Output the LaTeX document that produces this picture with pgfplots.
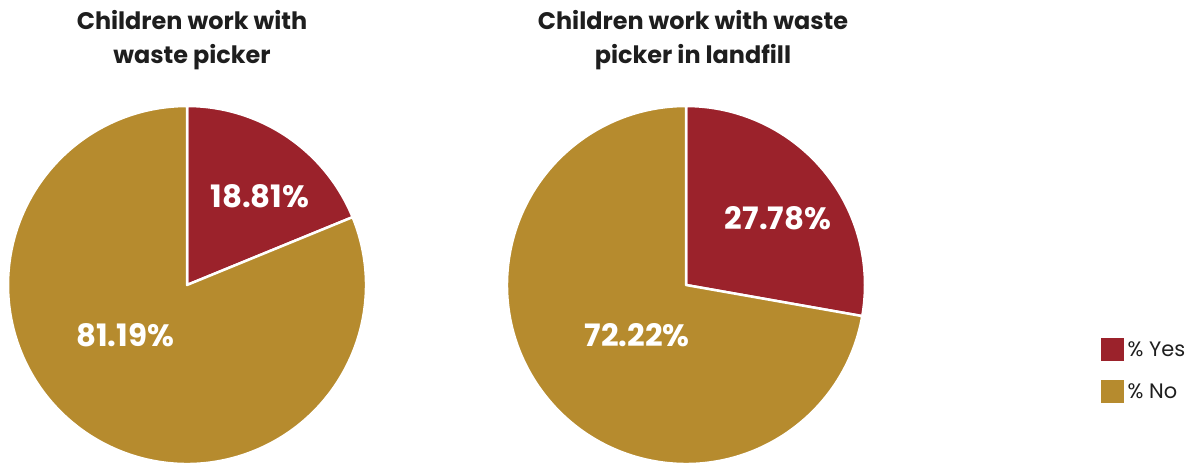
\documentclass[border=0pt]{standalone}
\usepackage{fontspec}
\setmainfont{Poppins}
\usepackage{pgfplots}
\usepackage{pgfplotstable}
\pgfplotsset{compat=1.18}
\definecolor{yescol}{HTML}{9B222B}
\definecolor{nocol}{HTML}{B68B2E}
\definecolor{txt}{HTML}{1E1E1E}
\pgfplotstableread{
chart yes no
1 18.81 81.19
2 27.78 72.22
}\piedata
\begin{document}
\begin{tikzpicture}
\pgfplotstablegetelem{0}{yes}\of\piedata \let\yesA\pgfplotsretval
\pgfplotstablegetelem{0}{no}\of\piedata \let\noA\pgfplotsretval
\pgfplotstablegetelem{1}{yes}\of\piedata \let\yesB\pgfplotsretval
\pgfplotstablegetelem{1}{no}\of\piedata \let\noB\pgfplotsretval
\pgfmathsetmacro\angA{90-3.6*\yesA}
\pgfmathsetmacro\angB{90-3.6*\yesB}
\begin{axis}[x=1bp,y=1bp,xmin=0,xmax=1194,ymin=0,ymax=466,
  hide axis, clip=false, scale only axis,
  legend image code/.code={\fill[#1] (0bp,-11.5bp) rectangle (23bp,11.5bp);},
  legend style={at={(axis cs:1101,128)},anchor=north west,draw=none,fill=none,
    font=\fontsize{21}{24}\selectfont\color{txt},row sep=19bp,inner sep=0pt,
    nodes={inner ysep=0pt,inner xsep=3.5bp}},
  legend cell align=left]
\addlegendimage{fill=yescol,draw=none}
\addlegendentry{\% Yes}
\addlegendimage{fill=nocol,draw=none}
\addlegendentry{\% No}
% pie 1
\filldraw[fill=yescol,draw=white,line width=2.5bp,line join=round] (axis cs:187,181) -- ++(90:179bp) arc[start angle=90,end angle=\angA,radius=179bp] -- cycle;
\filldraw[fill=nocol,draw=white,line width=2.5bp,line join=round] (axis cs:187,181) -- ++(\angA:179bp) arc[start angle=\angA,end angle=-270,radius=179bp] -- cycle;
% pie 2
\filldraw[fill=yescol,draw=white,line width=2.5bp,line join=round] (axis cs:686,181) -- ++(90:179bp) arc[start angle=90,end angle=\angB,radius=179bp] -- cycle;
\filldraw[fill=nocol,draw=white,line width=2.5bp,line join=round] (axis cs:686,181) -- ++(\angB:179bp) arc[start angle=\angB,end angle=-270,radius=179bp] -- cycle;
% labels
\node[white,font=\fontsize{31}{34}\selectfont\bfseries] at (axis cs:260,270) {\yesA\%};
\node[white,font=\fontsize{31}{34}\selectfont\bfseries] at (axis cs:125,131) {\noA\%};
\node[white,font=\fontsize{31}{34}\selectfont\bfseries] at (axis cs:778,248) {\yesB\%};
\node[white,font=\fontsize{31}{34}\selectfont\bfseries] at (axis cs:637,131) {\noB\%};
% titles
\node[txt,font=\fontsize{24}{34}\selectfont\bfseries,align=center] at (axis cs:192,426) {Children work with\\waste picker};
\node[txt,font=\fontsize{24}{34}\selectfont\bfseries,align=center] at (axis cs:693,426) {Children work with waste\\picker in landfill};
\end{axis}
\pgfresetboundingbox
\path (0,0) rectangle (1194bp,466bp);
\end{tikzpicture}
\end{document}
